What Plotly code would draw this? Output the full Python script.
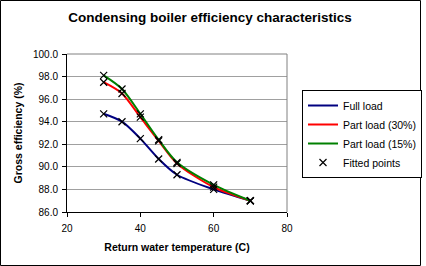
import plotly.graph_objects as go

temps = [30, 35, 40, 45, 50, 60, 70]
full_load = [94.7, 94.0, 92.5, 90.7, 89.3, 88.0, 87.0]
part_30 = [97.5, 96.5, 94.4, 92.3, 90.3, 88.2, 87.0]
part_15 = [98.1, 96.9, 94.7, 92.4, 90.4, 88.4, 87.0]

series_names = ["Full load", "Part load (30%)", "Part load (15%)"]
series_vals = [full_load, part_30, part_15]
series_cols = ["#000080", "#ff0000", "#008000"]

FONT = "Liberation Sans, Arial, sans-serif"

fig = go.Figure()
for name, vals, col in zip(series_names, series_vals, series_cols):
    fig.add_trace(go.Scatter(x=temps, y=vals, mode="lines", name=name,
                             line=dict(color=col, width=2, shape="spline", smoothing=0.8)))

px, py = [], []
for vals in series_vals:
    px += temps
    py += vals
fig.add_trace(go.Scatter(x=px, y=py, mode="markers", name="Fitted points",
                         marker=dict(symbol="x-thin", size=7, color="black",
                                     line=dict(color="black", width=1.2))))

L, R, T, B = 67, 139, 54, 54
W, H = 426, 266
pw, ph = W - L - R, H - T - B

shapes = [
    dict(type="line", xref="paper", yref="paper", x0=1, x1=1, y0=0, y1=1,
         line=dict(color="#808080", width=1)),
    dict(type="line", xref="paper", yref="paper", x0=0, x1=1, y0=1, y1=1,
         line=dict(color="#808080", width=1)),
    dict(type="rect", xref="paper", yref="paper",
         x0=(0.5 - L) / pw, x1=(420.5 - L) / pw,
         y0=-(H - 0.5 - (H - B)) / ph, y1=((H - B) - 0.5) / ph,
         line=dict(color="black", width=1)),
]

fig.update_layout(
    width=W, height=H,
    margin=dict(l=L, r=R, t=T, b=B, autoexpand=False),
    paper_bgcolor="white", plot_bgcolor="white",
    font=dict(family=FONT, size=10, color="black"),
    title=dict(text="<b>Condensing boiler efficiency characteristics</b>",
               x=210 / W, xanchor="center", y=1 - 17 / H, yanchor="middle",
               font=dict(size=13.5, family=FONT)),
    xaxis=dict(range=[20, 80], tickvals=[20, 40, 60, 80], ticks="outside",
               ticklen=4, tickcolor="black", showline=True, linecolor="black",
               linewidth=1, showgrid=False, zeroline=False, ticklabelstandoff=3,
               title=dict(text="<b>Return water temperature (C)</b>", standoff=10,
                          font=dict(size=10.5))),
    yaxis=dict(range=[86, 100], tickvals=[86, 88, 90, 92, 94, 96, 98, 100],
               ticktext=["86.0", "88.0", "90.0", "92.0", "94.0", "96.0", "98.0", "100.0"],
               ticks="outside", ticklen=4, tickcolor="black", showline=True,
               linecolor="black", linewidth=1, showgrid=True, gridcolor="#a0a0a0",
               gridwidth=1, zeroline=False, ticklabelstandoff=2,
               title=dict(text="<b>Gross efficiency (%)</b>", standoff=8,
                          font=dict(size=10.5))),
    legend=dict(x=(302 - L) / pw, xanchor="left", y=1 - (90 - T) / ph, yanchor="top",
                bordercolor="black", borderwidth=1, bgcolor="white",
                font=dict(size=10.5), tracegroupgap=0),
    shapes=shapes,
)

fig.write_html("out.html")
